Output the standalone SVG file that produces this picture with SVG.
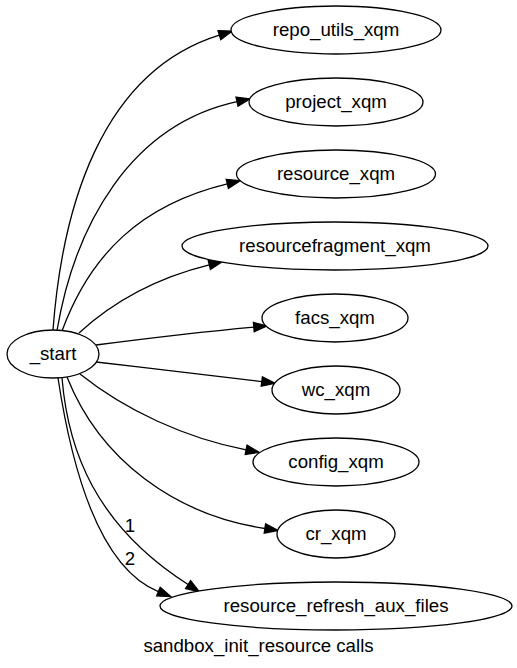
<svg xmlns="http://www.w3.org/2000/svg" width="517" height="668" viewBox="0 0 517 668">
<style>
.node ellipse{fill:#fff;stroke:#000;stroke-width:1.3}
text{font-family:"Liberation Sans",Arial,Helvetica,sans-serif;font-size:18.67px;fill:#000;text-anchor:middle}
.edges path{fill:none;stroke:#000;stroke-width:1.3;marker-end:url(#arr)}
</style>
<defs>
<marker id="arr" markerUnits="userSpaceOnUse" markerWidth="16" markerHeight="12" refX="0" refY="0" viewBox="0 -6 16 12" orient="auto" overflow="visible">
<path d="M0,-4.7 L13.3,0 L0,4.7 z" fill="#000" stroke="#000" stroke-width="1.3"/>
</marker>
</defs>
<rect width="517" height="668" fill="#fff"/>
<g class="edges" id="edges">
<path d="M53,330 C62,210 100,72 219.4,35.1"/>
<path d="M57,330.5 C75,225 130,125 237,101.7"/>
<path d="M62,331 C90,255 140,205 227.3,183.9"/>
<path d="M79,333 C115,300 160,277 209.3,264.9"/>
<path d="M96,345 C150,338 200,332 253.8,327.1"/>
<path d="M96,362 C150,368 200,374 261.8,381.6"/>
<path d="M80,374 C125,410 185,438 246.1,449.8"/>
<path d="M67,377 C100,460 175,515 264.9,528.5"/>
<path d="M62,378 C68,450 95,525 188.1,584.5"/>
<path d="M58,378 C72,470 100,568 158.4,591.6"/>
<text x="130" y="532">1</text>
<text x="130" y="565">2</text>
</g>
<g class="node" id="node_start"><ellipse cx="53" cy="354" rx="46" ry="24"/><text x="53" y="360">_start</text></g>
<g class="node" id="node_repo_utils_xqm"><ellipse cx="336" cy="30" rx="105" ry="24"/><text x="336" y="36">repo_utils_xqm</text></g>
<g class="node" id="node_project_xqm"><ellipse cx="336" cy="102" rx="87" ry="24"/><text x="336" y="108">project_xqm</text></g>
<g class="node" id="node_resource_xqm"><ellipse cx="336" cy="174" rx="99.5" ry="24"/><text x="336" y="180">resource_xqm</text></g>
<g class="node" id="node_resourcefragment_xqm"><ellipse cx="335" cy="246" rx="153" ry="24"/><text x="335" y="252">resourcefragment_xqm</text></g>
<g class="node" id="node_facs_xqm"><ellipse cx="335" cy="318" rx="73" ry="24"/><text x="335" y="324">facs_xqm</text></g>
<g class="node" id="node_wc_xqm"><ellipse cx="336" cy="390" rx="64" ry="24"/><text x="336" y="396">wc_xqm</text></g>
<g class="node" id="node_config_xqm"><ellipse cx="336" cy="462" rx="83" ry="24"/><text x="336" y="468">config_xqm</text></g>
<g class="node" id="node_cr_xqm"><ellipse cx="336" cy="534" rx="59" ry="24"/><text x="336" y="540">cr_xqm</text></g>
<g class="node" id="node_resource_refresh_aux_files"><ellipse cx="336" cy="606" rx="176" ry="24"/><text x="336" y="612">resource_refresh_aux_files</text></g>
<text x="258.5" y="652">sandbox_init_resource calls</text>
</svg>
